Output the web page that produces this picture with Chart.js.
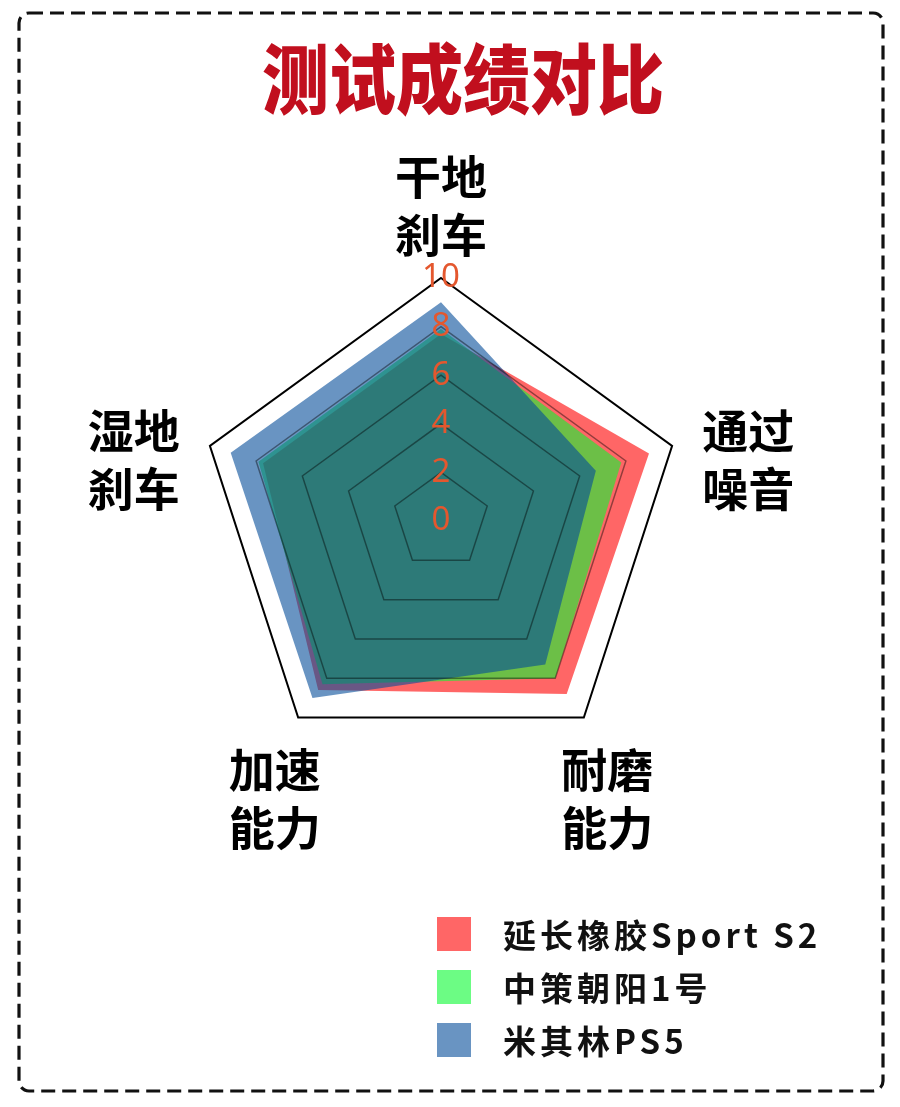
<!DOCTYPE html>
<html lang="zh">
<head>
<meta charset="utf-8">
<title>测试成绩对比</title>
<script src="https://cdn.jsdelivr.net/npm/chart.js@4.4.1/dist/chart.umd.min.js"></script>
<style>
  html, body { margin: 0; padding: 0; background: #fff; }
  body { width: 900px; height: 1107px; position: relative; overflow: hidden;
         font-family: "Noto Sans CJK SC", "Noto Sans", sans-serif; }
  #frame { position: absolute; left: 0; top: 0; }
  #title { position: absolute; left: 0; width: 926px; top: 30px; text-align: center;
           font-size: 67px; font-weight: 900; color: #c10f1e; line-height: 90px;
           transform: scaleY(1.14); }
  #chartBox { position: absolute; left: 0; top: 0; width: 900px; height: 1107px; }
  #legend { position: absolute; left: 437px; top: 917px; }
  .legend-item { display: flex; align-items: center; height: 34px; margin-bottom: 19px; }
  .legend-box { width: 34px; height: 34px; margin-right: 32px; }
  .legend-text { font-size: 33px; font-weight: 700; letter-spacing: 4px; color: #111; line-height: 34px; }
</style>
</head>
<body>
<svg id="frame" width="900" height="1107">
  <rect x="19" y="13" width="864" height="1078" rx="10" ry="10"
        fill="none" stroke="#111" stroke-width="3.2" stroke-dasharray="14 7"/>
</svg>
<div id="title">测试成绩对比</div>
<div id="chartBox"><canvas id="radarChart"></canvas></div>
<div id="legend"></div>

<script>
// Chart data
const categories = [['干地', '刹车'], ['通过', '噪音'], ['耐磨', '能力'], ['加速', '能力'], ['湿地', '刹车']];
const seriesNames = ['延长橡胶Sport S2', '中策朝阳1号', '米其林PS5'];
const yanchangValues = [7.7, 9.0, 8.8, 8.6, 7.7];
const zhongceValues = [7.9, 7.8, 8.0, 8.3, 7.9];
const michelinValues = [9.0, 6.7, 7.3, 9.0, 9.1];
const tickValues = [0, 2, 4, 6, 8, 10];

const seriesColors = ['rgba(255, 0, 0, 0.6)', 'rgba(10, 250, 50, 0.6)', 'rgba(5, 77, 153, 0.6)'];
const tickColor = '#e4572e';
const tickFont = { family: '"Noto Sans", "DejaVu Sans", sans-serif', size: 33 };

// Chart.js skips the label at the minimum tick, so draw "0" at the centre
const zeroTickPlugin = {
    id: 'zeroTick',
    afterDraw(chart) {
        const scale = chart.scales.r;
        const pos = scale.getPointPositionForValue(0, tickValues[0]);
        const ctx = chart.ctx;
        ctx.save();
        ctx.font = `${tickFont.size}px ${tickFont.family}`;
        ctx.fillStyle = tickColor;
        ctx.textAlign = 'center';
        ctx.textBaseline = 'middle';
        ctx.fillText(String(tickValues[0]), pos.x, pos.y);
        ctx.restore();
    }
};

// Two-line category labels, centred outside each vertex
const axisLabelPlugin = {
    id: 'axisLabels',
    afterDraw(chart) {
        const scale = chart.scales.r;
        const ctx = chart.ctx;
        const lineHeight = 58;
        ctx.save();
        ctx.font = 'bold 46px "Noto Sans CJK SC", sans-serif';
        ctx.fillStyle = '#000';
        ctx.textAlign = 'center';
        ctx.textBaseline = 'middle';
        chart.data.labels.forEach((lines, i) => {
            // vertical direction of this axis: -1 top, about -0.3 sides, about 0.8 bottom
            const s = (scale.getPointPosition(i, scale.drawingArea).y - scale.yCenter) / scale.drawingArea;
            const extra = s < -0.9 ? 72 : (s < 0 ? 80 : 40);
            const dy = s < -0.9 ? 0 : (s < 0 ? 38 : 49);
            const pos = scale.getPointPosition(i, scale.drawingArea + extra);
            const y0 = pos.y + dy - (lines.length - 1) * lineHeight / 2;
            lines.forEach((line, j) => ctx.fillText(line, pos.x, y0 + j * lineHeight));
        });
        ctx.restore();
    }
};

const ctx = document.getElementById('radarChart').getContext('2d');
const radarChart = new Chart(ctx, {
    type: 'radar',
    data: {
        labels: categories,
        datasets: [
            { label: seriesNames[0], data: yanchangValues, backgroundColor: seriesColors[0], order: 3 },
            { label: seriesNames[1], data: zhongceValues, backgroundColor: seriesColors[1], order: 2 },
            { label: seriesNames[2], data: michelinValues, backgroundColor: seriesColors[2], order: 1 }
        ].map(d => Object.assign(d, { fill: true, borderWidth: 0, pointRadius: 0, pointHoverRadius: 0 }))
    },
    options: {
        responsive: true,
        maintainAspectRatio: false,
        animation: false,
        layout: { padding: { left: 180, right: 197, top: 260, bottom: 324 } },
        plugins: { legend: { display: false }, tooltip: { enabled: false } },
        scales: {
            r: {
                min: 0, max: 10,
                afterBuildTicks: scale => { scale.ticks = tickValues.map(v => ({ value: v })); },
                ticks: { color: tickColor, font: tickFont, showLabelBackdrop: false, z: 2 },
                grid: {
                    z: 1,
                    color: c => c.tick.value === 10 ? '#000' : 'rgba(0, 0, 0, 0.42)',
                    lineWidth: c => c.tick.value === 10 ? 2 : 1.5
                },
                angleLines: { display: false },
                pointLabels: { display: false }
            }
        }
    },
    plugins: [zeroTickPlugin, axisLabelPlugin]
});

// Legend list built from the datasets
document.getElementById('legend').innerHTML = radarChart.data.datasets.map(d => `
    <div class="legend-item">
        <div class="legend-box" style="background:${d.backgroundColor}"></div>
        <div class="legend-text">${d.label}</div>
    </div>
`).join('');
</script>
</body>
</html>
